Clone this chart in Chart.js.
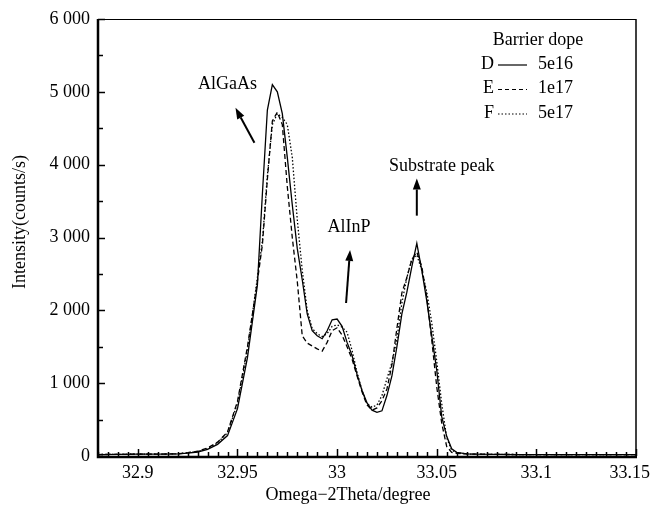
<!DOCTYPE html>
<html>
<head>
<meta charset="utf-8">
<script src="https://cdn.jsdelivr.net/npm/chart.js@4.4.0/dist/chart.umd.min.js"></script>
<style>
html, body { margin: 0; padding: 0; background: #fff; }
</style>
</head>
<body>
<canvas id="xrdChart" width="651" height="507"></canvas>
<script>
// Omega-2Theta positions (degree)
const omega = [32.88, 32.89, 32.9, 32.91, 32.92, 32.925, 32.93, 32.935, 32.94, 32.945, 32.95, 32.955, 32.96,
    32.9625, 32.965, 32.9675, 32.97, 32.9725, 32.975, 32.9775, 32.98, 32.9825, 32.985,
    32.9875, 32.99, 32.9925, 32.995, 32.9975, 33.0, 33.0025, 33.005, 33.0075, 33.01,
    33.0125, 33.015, 33.0175, 33.02, 33.0225, 33.025, 33.0275, 33.03, 33.0325, 33.035,
    33.0375, 33.04, 33.0425, 33.045, 33.0475, 33.05, 33.0525, 33.055, 33.0575, 33.06,
    33.065, 33.07, 33.08, 33.09, 33.1, 33.11, 33.12, 33.13, 33.14, 33.15];

// intensity (counts/s) for each barrier doping
const sampleD = [20, 22, 25, 25, 30, 40, 55, 90, 160, 280, 650, 1350, 2350,
    3600, 4750, 5100, 5000, 4700, 4100, 3450, 2850, 2420, 1950,
    1720, 1650, 1610, 1720, 1870, 1880, 1780, 1560, 1380, 1120,
    900, 730, 630, 600, 620, 830, 1100, 1500, 1950, 2250,
    2600, 2920, 2550, 2130, 1650, 1180, 540, 270, 100, 50,
    30, 25, 22, 20, 20, 20, 20, 20, 20, 20];
const sampleE = [20, 22, 25, 25, 30, 45, 65, 110, 190, 330, 750, 1500, 2400,
    2900, 3800, 4600, 4720, 4550, 3700, 3000, 2400, 1650, 1550,
    1510, 1470, 1440, 1560, 1720, 1760, 1660, 1500, 1330, 1100,
    880, 700, 630, 660, 760, 920, 1250, 1750, 2240, 2450,
    2700, 2800, 2600, 2180, 1590, 950, 450, 130, 50, 35,
    28, 25, 22, 20, 20, 20, 20, 20, 20, 20];
const sampleF = [20, 22, 25, 25, 30, 45, 60, 100, 180, 320, 720, 1450, 2450,
    2950, 3850, 4550, 4700, 4650, 4550, 4100, 3250, 2550, 2000,
    1750, 1680, 1640, 1680, 1780, 1800, 1770, 1700, 1450, 1150,
    900, 720, 670, 700, 830, 1060, 1280, 1600, 2100, 2450,
    2700, 2760, 2550, 2250, 1830, 1300, 720, 250, 80, 45,
    28, 25, 22, 20, 20, 20, 20, 20, 20, 20];

const xTickValues = [32.9, 32.95, 33, 33.05, 33.1, 33.15];
const legendNames = ['D', 'E', 'F'];
const legendDopes = ['5e16', '1e17', '5e17'];

const serif = '"Liberation Serif", "Times New Roman", serif';

const toPoints = ys => omega.map((x, i) => ({ x: x, y: ys[i] }));

const fmtThousands = v => {
    if (v < 1000) return String(v);
    return Math.floor(v / 1000) + ' ' + String(v % 1000).padStart(3, '0');
};

function arrow(ctx, x1, y1, x2, y2) {
    const ang = Math.atan2(y2 - y1, x2 - x1);
    const hl = 11, hw = 4;
    const bx = x2 - hl * Math.cos(ang), by = y2 - hl * Math.sin(ang);
    ctx.beginPath();
    ctx.moveTo(x1, y1);
    ctx.lineTo(bx, by);
    ctx.lineWidth = 2;
    ctx.stroke();
    ctx.beginPath();
    ctx.moveTo(x2, y2);
    ctx.lineTo(bx + hw * Math.sin(ang), by - hw * Math.cos(ang));
    ctx.lineTo(bx - hw * Math.sin(ang), by + hw * Math.cos(ang));
    ctx.closePath();
    ctx.fill();
}

const decorPlugin = {
    id: 'decor',
    afterDraw(chart) {
        const ctx = chart.ctx;
        const { left, right, top, bottom } = chart.chartArea;
        const xs = chart.scales.x, ys = chart.scales.y;
        ctx.save();
        ctx.strokeStyle = '#000';
        ctx.fillStyle = '#000';
        ctx.setLineDash([]);

        // frame
        ctx.lineWidth = 1;
        ctx.beginPath();
        ctx.moveTo(left, top + 0.5); ctx.lineTo(right, top + 0.5);
        ctx.stroke();
        ctx.lineWidth = 1.5;
        ctx.beginPath();
        ctx.moveTo(right, top); ctx.lineTo(right, bottom);
        ctx.stroke();
        ctx.lineWidth = 2.5;
        ctx.beginPath();
        ctx.moveTo(left, top); ctx.lineTo(left, bottom + 1);
        ctx.lineTo(right + 1, bottom + 1);
        ctx.stroke();

        // inward ticks
        ctx.lineWidth = 1.5;
        for (let k = 0; k <= 54; k++) {
            const v = 32.88 + k * 0.005;
            const major = Math.abs(v * 20 - Math.round(v * 20)) < 1e-6;
            const px = Math.round(xs.getPixelForValue(v)) + 0.5;
            ctx.beginPath();
            ctx.moveTo(px, bottom);
            ctx.lineTo(px, bottom - (major ? 7 : 4));
            ctx.stroke();
        }
        for (let v = 0; v <= 6000; v += 500) {
            const major = v % 1000 === 0;
            const py = Math.round(ys.getPixelForValue(v)) + 0.5;
            ctx.beginPath();
            ctx.moveTo(left, py);
            ctx.lineTo(left + (major ? 7 : 5), py);
            ctx.stroke();
        }

        // x tick labels (kept inside the canvas at the right edge)
        ctx.font = '18px ' + serif;
        ctx.textAlign = 'center';
        ctx.textBaseline = 'middle';
        xTickValues.forEach(v => {
            const txt = String(v);
            const w = ctx.measureText(txt).width;
            let cx = xs.getPixelForValue(v);
            cx = Math.min(cx, chart.width - 1 - w / 2);
            ctx.fillText(txt, cx, bottom + 17);
        });

        // axis titles
        ctx.fillText('Omega\u22122Theta/degree', 348, 495);
        ctx.save();
        ctx.translate(20, 222);
        ctx.rotate(-Math.PI / 2);
        ctx.fillText('Intensity(counts/s)', 0, 0);
        ctx.restore();

        // peak annotations
        const P = (x, y) => [xs.getPixelForValue(x), ys.getPixelForValue(y)];
        let a, b;
        ctx.fillText('AlGaAs', ...P(32.945, 5100));
        a = P(32.9585, 4300); b = P(32.949, 4780);
        arrow(ctx, a[0], a[1], b[0], b[1]);
        ctx.fillText('AlInP', ...P(33.006, 3140));
        a = P(33.0045, 2100); b = P(33.0065, 2830);
        arrow(ctx, a[0], a[1], b[0], b[1]);
        ctx.fillText('Substrate peak', ...P(33.0525, 3980));
        a = P(33.04, 3300); b = P(33.04, 3810);
        arrow(ctx, a[0], a[1], b[0], b[1]);

        // legend
        ctx.fillText('Barrier dope', 538, 40);
        const dashes = [[], [4, 3], [1.5, 2]];
        legendNames.forEach((n, i) => {
            const y = 64 + i * 24.5;
            ctx.textAlign = 'right';
            ctx.fillText(n, 494, y);
            ctx.textAlign = 'left';
            ctx.fillText(legendDopes[i], 538, y);
            ctx.lineWidth = 1.2;
            ctx.setLineDash(dashes[i]);
            ctx.beginPath();
            ctx.moveTo(498, y + 1);
            ctx.lineTo(527, y + 1);
            ctx.stroke();
            ctx.setLineDash([]);
        });
        ctx.restore();
    }
};

const ctx = document.getElementById('xrdChart').getContext('2d');

const lineStyle = {
    borderColor: '#000',
    borderWidth: 1.3,
    pointRadius: 0,
    tension: 0,
    fill: false
};

new Chart(ctx, {
    type: 'line',
    data: {
        datasets: [
            { ...lineStyle, label: 'D 5e16', data: toPoints(sampleD) },
            { ...lineStyle, label: 'E 1e17', data: toPoints(sampleE), borderDash: [5, 3] },
            { ...lineStyle, label: 'F 5e17', data: toPoints(sampleF), borderDash: [1.5, 2] }
        ]
    },
    options: {
        responsive: false,
        animation: false,
        layout: { padding: { top: 19, right: 15, left: 0, bottom: 0 } },
        plugins: {
            legend: { display: false },
            tooltip: { enabled: false }
        },
        scales: {
            x: {
                type: 'linear',
                min: 32.88,
                max: 33.15,
                grid: { display: false, drawTicks: false },
                border: { display: false },
                ticks: { display: false },
                afterBuildTicks: s => { s.ticks = xTickValues.map(v => ({ value: v })); },
                afterFit: s => { s.height = 51; s.paddingLeft = 0; s.paddingRight = 0; }
            },
            y: {
                min: 0,
                max: 6000,
                grid: { display: false, drawTicks: false },
                border: { display: false },
                ticks: {
                    stepSize: 1000,
                    color: '#000',
                    font: { family: serif, size: 18 },
                    padding: 8,
                    callback: v => fmtThousands(v)
                },
                afterFit: s => { s.width = 98; s.paddingTop = 0; s.paddingBottom = 0; }
            }
        }
    },
    plugins: [decorPlugin]
});
</script>
</body>
</html>
